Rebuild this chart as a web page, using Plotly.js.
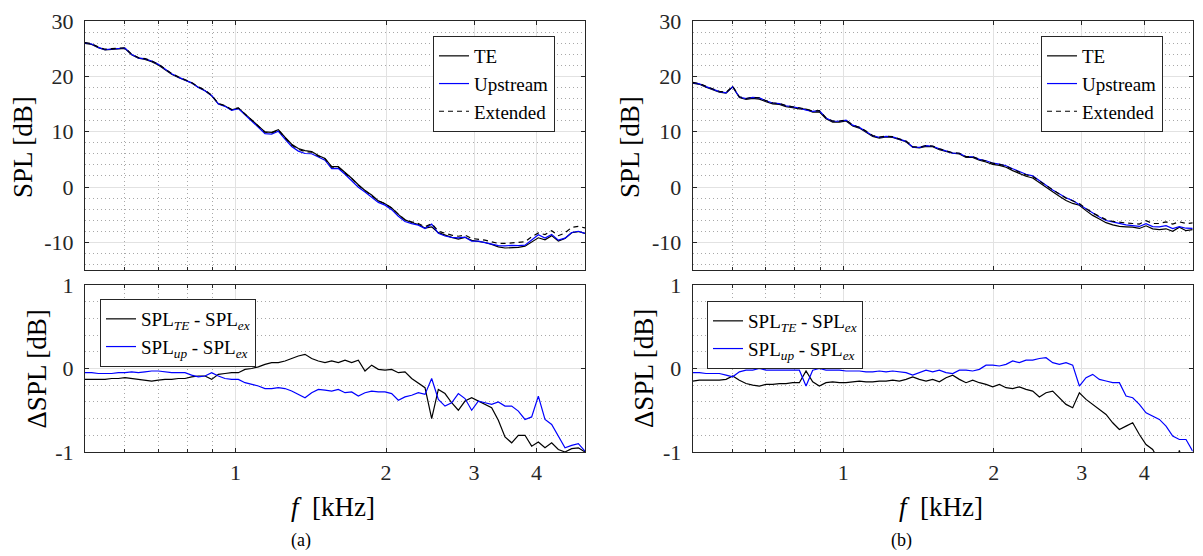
<!DOCTYPE html>
<html>
<head>
<meta charset="utf-8">
<script src="https://cdn.plot.ly/plotly-3.0.1.min.js"></script>
<style>html,body{margin:0;padding:0;background:#fff;}#chart{width:1203px;height:556px;}</style>
</head>
<body>
<div id="chart"></div>
<script>
// Frequency grid [kHz]
const freq = [0.5,0.5156,0.5317,0.5483,0.5654,0.583,0.6011,0.6199,0.6392,0.6591,0.6797,0.7009,0.7227,0.7453,0.7685,0.7924,0.8171,0.8426,0.8689,0.896,0.9239,0.9527,0.9824,1.0131,1.0447,1.0772,1.1108,1.1454,1.1811,1.218,1.2559,1.2951,1.3355,1.3771,1.42,1.4643,1.51,1.5571,1.6056,1.6557,1.7073,1.7605,1.8154,1.872,1.9303,1.9905,2.0526,2.1166,2.1826,2.2506,2.3208,2.3932,2.4678,2.5447,2.624,2.7058,2.7902,2.8772,2.9669,3.0594,3.1548,3.2531,3.3546,3.4591,3.567,3.6782,3.7929,3.9111,4.0331,4.1588,4.2885,4.4222,4.5601,4.7022,4.8488,5.0];

// Panel (a)
const splTE_a = [25.97,25.77,25.17,24.77,24.88,24.98,25.04,23.88,23.27,23.06,22.65,22.06,21.17,20.37,19.78,19.28,18.80,18.01,17.41,16.47,15.03,14.64,13.95,14.25,13.19,12.00,11.02,9.95,9.87,10.37,8.99,7.72,6.95,6.57,6.42,5.69,5.17,3.69,3.67,2.70,1.57,0.40,-0.63,-1.46,-2.51,-3.02,-3.81,-4.95,-5.94,-6.42,-6.77,-7.43,-7.20,-8.25,-8.70,-9.11,-9.40,-9.09,-9.65,-9.79,-10.03,-10.37,-10.82,-11.02,-10.99,-10.90,-10.70,-9.93,-9.18,-9.55,-8.79,-9.77,-9.30,-8.26,-8.05,-8.40];
const splUp_a = [26.05,25.85,25.24,24.84,24.94,25.05,25.10,23.96,23.35,23.16,22.77,22.17,21.26,20.45,19.85,19.35,18.82,18.00,17.41,16.55,15.01,14.58,13.87,14.17,13.03,11.81,10.79,9.66,9.56,10.07,8.66,7.33,6.49,6.05,6.01,5.35,4.84,3.33,3.35,2.31,1.22,-0.03,-0.89,-1.77,-2.78,-3.28,-4.10,-5.28,-6.24,-6.62,-6.89,-7.51,-6.72,-8.37,-8.85,-9.11,-9.20,-9.06,-9.80,-9.79,-10.01,-10.33,-10.60,-10.65,-10.55,-10.61,-10.51,-9.58,-8.63,-9.21,-8.57,-9.61,-9.25,-8.22,-8.00,-8.39];
const splEx_a = [26.1,25.9,25.3,24.9,25.0,25.1,25.15,24.0,23.4,23.2,22.8,22.2,21.3,20.5,19.9,19.4,18.9,18.1,17.5,16.6,15.1,14.7,14.0,14.3,13.2,12.0,11.0,9.9,9.8,10.3,8.9,7.6,6.8,6.4,6.3,5.6,5.1,3.6,3.6,2.6,1.5,0.3,-0.6,-1.5,-2.5,-3.0,-3.8,-4.9,-5.9,-6.3,-6.6,-7.2,-6.6,-8.0,-8.4,-8.7,-8.9,-8.7,-9.3,-9.4,-9.6,-9.9,-10.2,-10.2,-10.1,-10.1,-9.9,-9.0,-8.3,-8.6,-7.9,-8.8,-8.3,-7.3,-7.1,-7.4];
const dTE_a = [-0.13,-0.13,-0.13,-0.13,-0.12,-0.12,-0.11,-0.12,-0.13,-0.14,-0.15,-0.14,-0.13,-0.13,-0.12,-0.12,-0.10,-0.09,-0.09,-0.13,-0.07,-0.06,-0.05,-0.05,-0.01,0.00,0.02,0.05,0.07,0.07,0.09,0.12,0.15,0.17,0.12,0.09,0.07,0.09,0.07,0.10,0.07,0.10,-0.03,0.04,-0.01,-0.02,-0.01,-0.05,-0.04,-0.12,-0.17,-0.23,-0.60,-0.25,-0.30,-0.41,-0.50,-0.39,-0.35,-0.39,-0.43,-0.47,-0.62,-0.82,-0.89,-0.80,-0.80,-0.93,-0.88,-0.95,-0.89,-0.97,-1.0,-0.96,-0.95,-1.0];
const dUp_a = [-0.05,-0.05,-0.06,-0.06,-0.06,-0.05,-0.05,-0.04,-0.05,-0.04,-0.03,-0.03,-0.04,-0.05,-0.05,-0.05,-0.08,-0.10,-0.09,-0.05,-0.09,-0.12,-0.13,-0.13,-0.17,-0.19,-0.21,-0.24,-0.24,-0.23,-0.24,-0.27,-0.31,-0.35,-0.29,-0.25,-0.26,-0.27,-0.25,-0.29,-0.28,-0.33,-0.29,-0.27,-0.28,-0.28,-0.30,-0.38,-0.34,-0.32,-0.29,-0.31,-0.12,-0.37,-0.45,-0.41,-0.30,-0.36,-0.50,-0.39,-0.41,-0.43,-0.40,-0.45,-0.45,-0.51,-0.61,-0.58,-0.33,-0.61,-0.67,-0.81,-0.95,-0.92,-0.90,-0.99];

// Panel (b)
const splTE_b = [18.75,18.56,18.06,17.56,17.16,16.97,18.11,16.16,15.82,16.00,15.89,15.41,15.01,14.92,14.52,14.33,14.13,14.07,13.54,13.59,12.33,11.74,11.73,11.93,11.04,10.65,9.94,9.14,8.85,9.05,8.96,8.55,8.17,7.20,7.07,7.35,7.27,6.74,6.39,6.12,5.97,5.33,5.36,4.83,4.51,4.08,3.91,3.57,2.96,2.48,1.95,1.63,0.76,-0.09,-0.87,-1.65,-2.43,-2.97,-3.29,-4.27,-5.13,-5.79,-6.45,-6.85,-7.13,-7.19,-7.25,-7.49,-7.01,-7.57,-7.70,-7.55,-8.00,-7.28,-7.90,-7.70];
const splUp_b = [18.85,18.65,18.14,17.64,17.24,17.02,18.10,16.26,15.98,16.18,16.10,15.58,15.18,15.08,14.68,14.48,14.28,13.89,13.68,13.80,12.48,11.88,11.88,12.07,11.17,10.77,10.06,9.26,8.97,9.16,9.07,8.66,8.25,7.22,7.15,7.48,7.36,6.88,6.45,6.14,6.08,5.48,5.47,4.99,4.74,4.34,4.13,3.85,3.29,2.77,2.30,2.00,1.22,0.33,-0.53,-1.25,-1.93,-2.46,-3.21,-4.01,-4.77,-5.43,-6.05,-6.37,-6.57,-6.83,-6.95,-7.13,-6.63,-7.17,-7.21,-6.99,-7.51,-7.15,-7.45,-7.49];
const splEx_b = [18.9,18.7,18.2,17.7,17.3,17.1,18.2,16.3,16.0,16.2,16.1,15.6,15.2,15.1,14.7,14.5,14.3,14.1,13.7,13.8,12.5,11.9,11.9,12.1,11.2,10.8,10.1,9.3,9.0,9.2,9.1,8.7,8.3,7.3,7.2,7.5,7.4,6.9,6.5,6.2,6.1,5.5,5.5,5.0,4.7,4.3,4.1,3.8,3.2,2.7,2.2,1.9,1.1,0.2,-0.6,-1.3,-2.0,-2.5,-3.0,-3.9,-4.7,-5.3,-5.9,-6.2,-6.4,-6.5,-6.6,-6.7,-6.1,-6.6,-6.6,-6.3,-6.7,-6.3,-6.6,-6.5];
const dTE_b = [-0.15,-0.14,-0.14,-0.14,-0.14,-0.13,-0.09,-0.14,-0.18,-0.20,-0.21,-0.19,-0.19,-0.18,-0.18,-0.17,-0.17,-0.03,-0.16,-0.21,-0.17,-0.16,-0.17,-0.17,-0.16,-0.15,-0.16,-0.16,-0.15,-0.15,-0.14,-0.15,-0.13,-0.10,-0.13,-0.15,-0.13,-0.16,-0.11,-0.08,-0.13,-0.17,-0.14,-0.17,-0.19,-0.22,-0.19,-0.23,-0.24,-0.22,-0.25,-0.27,-0.34,-0.29,-0.27,-0.35,-0.43,-0.47,-0.29,-0.37,-0.43,-0.49,-0.55,-0.65,-0.73,-0.69,-0.65,-0.79,-0.91,-0.97,-1.10,-1.25,-1.30,-0.98,-1.30,-1.20];
const dUp_b = [-0.05,-0.05,-0.06,-0.06,-0.06,-0.08,-0.10,-0.04,-0.02,-0.02,0.00,-0.02,-0.02,-0.02,-0.02,-0.02,-0.02,-0.21,-0.02,0.00,-0.02,-0.02,-0.02,-0.03,-0.03,-0.03,-0.04,-0.04,-0.03,-0.04,-0.03,-0.04,-0.05,-0.08,-0.05,-0.02,-0.04,-0.02,-0.05,-0.06,-0.02,-0.02,-0.03,-0.01,0.04,0.04,0.03,0.05,0.09,0.07,0.10,0.10,0.12,0.13,0.07,0.05,0.07,0.04,-0.21,-0.11,-0.07,-0.13,-0.15,-0.17,-0.17,-0.33,-0.35,-0.43,-0.53,-0.57,-0.61,-0.69,-0.81,-0.85,-0.85,-0.99];

// Tick labels
const xTickVals = [1,2,3,4];
const xTickText = ['1','2','3','4'];
const xMinorVals = [0.6,0.7,0.8,0.9];
const ySplTickVals = [-10,0,10,20,30];
const ySplTickText = ['-10','0','10','20','30'];
const ySplMinor = [-14,-12,-8,-6,-4,-2,2,4,6,8,12,14,16,18,22,24,26,28];
const yDTickVals = [-1,0,1];
const yDTickText = ['-1','0','1'];
const yDMinor = [-0.8,-0.6,-0.4,-0.2,0.2,0.4,0.6,0.8];

const legTop = ['TE','Upstream','Extended'];
const legBot = ['SPL<sub><i>TE</i></sub> - SPL<sub><i>ex</i></sub>','SPL<sub><i>up</i></sub> - SPL<sub><i>ex</i></sub>'];

const FONT = '"Liberation Serif", "DejaVu Serif", serif';
const AX = '#262626';
const W = 1203, H = 556;

function tr(x, y, name, color, dash, xa, ya, leg){
  return {x:x, y:y, name:name, type:'scatter', mode:'lines', xaxis:xa, yaxis:ya, legend:leg,
    line:{color:color, width:1.2, dash:dash||'solid'}, hoverinfo:'skip'};
}
const data = [
  tr(freq, splTE_a, legTop[0], '#000000', null, 'x', 'y', 'legend'),
  tr(freq, splUp_a, legTop[1], '#0000ff', null, 'x', 'y', 'legend'),
  tr(freq, splEx_a, legTop[2], '#000000', '5px,4px', 'x', 'y', 'legend'),
  tr(freq, dTE_a, legBot[0], '#000000', null, 'x2', 'y2', 'legend2'),
  tr(freq, dUp_a, legBot[1], '#0000ff', null, 'x2', 'y2', 'legend2'),
  tr(freq, splTE_b, legTop[0], '#000000', null, 'x3', 'y3', 'legend3'),
  tr(freq, splUp_b, legTop[1], '#0000ff', null, 'x3', 'y3', 'legend3'),
  tr(freq, splEx_b, legTop[2], '#000000', '5px,4px', 'x3', 'y3', 'legend3'),
  tr(freq, dTE_b, legBot[0], '#000000', null, 'x4', 'y4', 'legend4'),
  tr(freq, dUp_b, legBot[1], '#0000ff', null, 'x4', 'y4', 'legend4')
];

const common = {showline:true, mirror:'ticks', linecolor:AX, linewidth:1, ticks:'inside', ticklen:4, tickcolor:AX,
  zeroline:false, showgrid:true, gridcolor:'#e2e2e2', gridwidth:1, automargin:false,
  tickfont:{family:FONT, size:22, color:AX}};
const minorGrid = {showgrid:true, griddash:'1px,3px', gridcolor:'#a8a8a8', gridwidth:1};

function xax(domain, anchor, labels){
  return Object.assign({}, common, {type:'log', range:[Math.log10(0.5), Math.log10(5)], domain:domain, anchor:anchor,
    tickmode:'array', tickvals:xTickVals, ticktext:xTickText, showticklabels:labels, ticklabelstandoff:1,
    minor:Object.assign({tickmode:'array', tickvals:xMinorVals, ticks:'inside', ticklen:3, tickcolor:AX}, minorGrid)});
}
function yax(domain, anchor, vals, text, minor, range){
  return Object.assign({}, common, {range:range, domain:domain, anchor:anchor,
    tickmode:'array', tickvals:vals, ticktext:text, ticklabelstandoff:6,
    minor:Object.assign({tickmode:'array', tickvals:minor, ticks:''}, minorGrid)});
}
const dxL = [85/W, 585/W], dxR = [692.7/W, 1192.7/W];
const dyT = [1-270/H, 1-21/H], dyB = [1-452/H, 1-285/H];

function legend(px, py, size){
  return {x:px/W, y:1-py/H, xanchor:'left', yanchor:'top', bgcolor:'#ffffff', bordercolor:AX, borderwidth:1,
    font:{family:FONT, size:size, color:'#000'}, tracegroupgap:0};
}
function ann(text, px, py, size, angle){
  return {text:text, x:px/W, y:1-py/H, xref:'paper', yref:'paper', showarrow:false, textangle:angle||0,
    xanchor:'center', yanchor:'middle', font:{family:FONT, size:size, color:'#000'}};
}

const layout = {
  width:W, height:H, margin:{l:0,r:0,t:0,b:0}, paper_bgcolor:'#fff', plot_bgcolor:'#fff', showlegend:true,
  font:{family:FONT, color:'#000'},
  xaxis: xax(dxL, 'y', false), yaxis: yax(dyT, 'x', ySplTickVals, ySplTickText, ySplMinor, [-15,30]),
  xaxis2: xax(dxL, 'y2', true), yaxis2: yax(dyB, 'x2', yDTickVals, yDTickText, yDMinor, [-1,1]),
  xaxis3: xax(dxR, 'y3', false), yaxis3: yax(dyT, 'x3', ySplTickVals, ySplTickText, ySplMinor, [-15,30]),
  xaxis4: xax(dxR, 'y4', true), yaxis4: yax(dyB, 'x4', yDTickVals, yDTickText, yDMinor, [-1,1]),
  legend: legend(433, 36, 19), legend2: legend(100, 299, 19), legend3: legend(1041, 36, 19), legend4: legend(707, 301, 19),
  annotations: [
    ann('SPL [dB]', 23, 147, 27, -90),
    ann('ΔSPL [dB]', 36.5, 369, 27, -90),
    ann('SPL [dB]', 630, 147, 27, -90),
    ann('ΔSPL [dB]', 644, 369, 27, -90),
    ann('<i>f</i>  [kHz]', 333, 507, 27, 0),
    ann('<i>f</i>  [kHz]', 941, 507, 27, 0),
    ann('(a)', 301, 540, 18, 0),
    ann('(b)', 901, 540, 18, 0)
  ]
};
Plotly.newPlot('chart', data, layout, {staticPlot:true, displayModeBar:false});
</script>
</body>
</html>
